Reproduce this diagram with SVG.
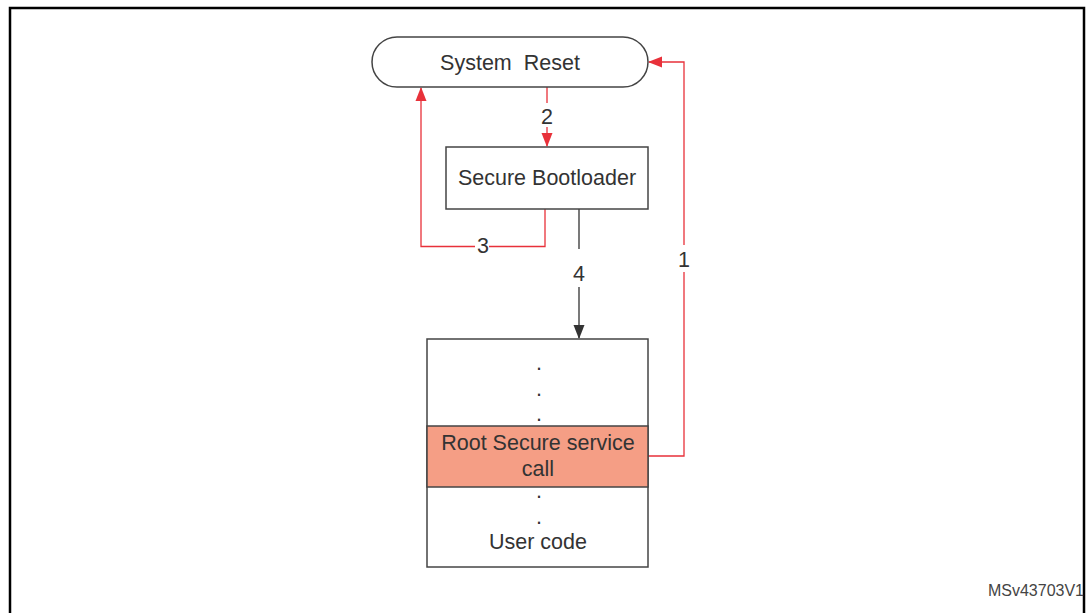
<svg xmlns="http://www.w3.org/2000/svg" width="1086" height="613" viewBox="0 0 1086 613">
<style>
.t{font-family:"Liberation Sans",Arial,sans-serif;font-size:21.5px;fill:#333;text-anchor:middle}
.box{fill:#fff;stroke:#444;stroke-width:1.5}
.red{fill:none;stroke:#e8313a;stroke-width:1.3}
.blk{fill:none;stroke:#333;stroke-width:1.3}
</style>
<defs>
<marker id="ar" markerWidth="14" markerHeight="12" refX="13" refY="6" orient="auto" markerUnits="userSpaceOnUse"><path d="M0,0.5 L14,6 L0,11.5 Z" fill="#e8313a"/></marker>
<marker id="ab" markerWidth="14" markerHeight="12" refX="13" refY="6" orient="auto" markerUnits="userSpaceOnUse"><path d="M0,0.5 L14,6 L0,11.5 Z" fill="#333"/></marker>
</defs>
<rect x="10" y="8" width="1074" height="620" fill="#fff" stroke="#000" stroke-width="2.5"/>
<g id="connectors">
<path class="red" d="M547,87 V103 M547,127 V146" marker-end="url(#ar)"/>
<text class="t" x="547" y="124">2</text>
<path class="red" d="M545,209 V246.5 H489 M475,246.5 H421 V88" marker-end="url(#ar)"/>
<text class="t" x="483" y="253">3</text>
<path class="blk" d="M579,209 V249 M579,287 V338" marker-end="url(#ab)"/>
<text class="t" x="579" y="281">4</text>
<path class="red" d="M648,456 H684 V272 M684,245 V62 H649" marker-end="url(#ar)"/>
<text class="t" x="684" y="267">1</text>
</g>
<g id="system-reset">
<rect class="box" x="372" y="37" width="276" height="50" rx="25" ry="25"/>
<text class="t" x="510" y="70" xml:space="preserve">System  Reset</text>
</g>
<g id="secure-bootloader">
<rect class="box" x="446" y="147" width="202" height="62"/>
<text class="t" x="547" y="185">Secure Bootloader</text>
</g>
<g id="user-code">
<rect class="box" x="427" y="339" width="221" height="228"/>
<rect x="427" y="426" width="221" height="61" fill="#f59e85" stroke="#444" stroke-width="1.5"/>
<text class="t" x="539" y="370">.</text>
<text class="t" x="539" y="396">.</text>
<text class="t" x="539" y="421">.</text>
<text class="t" x="538" y="450">Root Secure service</text>
<text class="t" x="538" y="476">call</text>
<text class="t" x="539" y="498">.</text>
<text class="t" x="539" y="524">.</text>
<text class="t" x="538" y="549">User code</text>
</g>
<text x="1084" y="596" font-family="Liberation Sans,Arial,sans-serif" font-size="16" fill="#444" text-anchor="end">MSv43703V1</text>
</svg>
